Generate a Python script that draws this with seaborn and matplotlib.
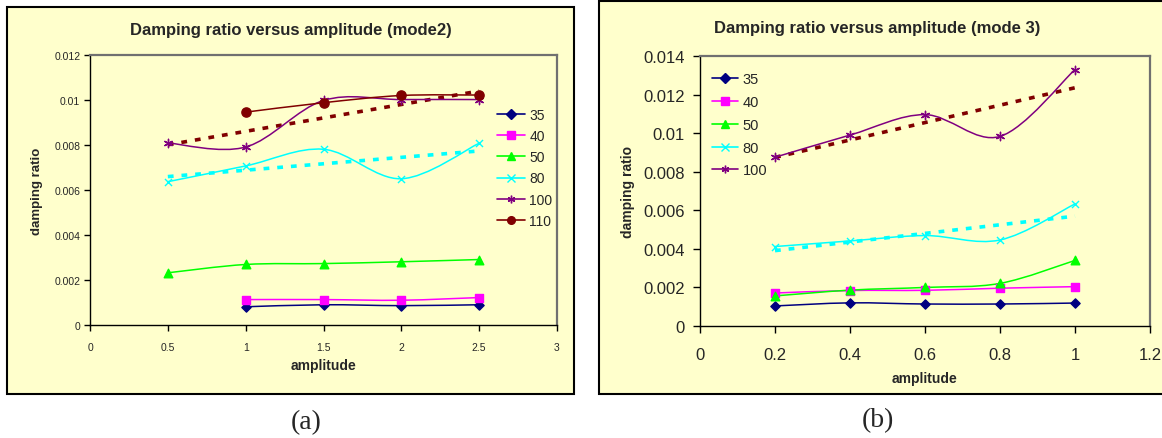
import numpy as np
import pandas as pd
import matplotlib
matplotlib.use("Agg")
import matplotlib.pyplot as plt
import seaborn as sns
from matplotlib.path import Path
from matplotlib.patches import PathPatch, Rectangle
from matplotlib.lines import Line2D

# mode 2 (panel a)
amp_mode2 = [0.5, 1.0, 1.5, 2.0, 2.5]
m2_35 = [np.nan, 0.00081, 0.00090, 0.00086, 0.00090]
m2_40 = [np.nan, 0.00113, 0.00113, 0.00110, 0.00122]
m2_50 = [0.00232, 0.00269, 0.00273, 0.00281, 0.00291]
m2_80 = [0.00637, 0.00707, 0.00781, 0.00650, 0.00808]
m2_100 = [0.00809, 0.00791, 0.00998, 0.01002, 0.01002]
m2_110 = [np.nan, 0.00946, 0.00988, 0.01020, 0.01022]

# mode 3 (panel b)
amp_mode3 = [0.2, 0.4, 0.6, 0.8, 1.0]
m3_35 = [0.00104, 0.00120, 0.00114, 0.00114, 0.00119]
m3_40 = [0.00171, 0.00184, 0.00185, 0.00196, 0.00204]
m3_50 = [0.00156, 0.00186, 0.00200, 0.00221, 0.00340]
m3_80 = [0.00412, 0.00441, 0.00469, 0.00446, 0.00633]
m3_100 = [0.00875, 0.00990, 0.01096, 0.00983, 0.01330]

series_names = ['35', '40', '50', '80', '100', '110']
x_ticks_a = [0, 0.5, 1, 1.5, 2, 2.5, 3]
y_ticks_a = [0, 0.002, 0.004, 0.006, 0.008, 0.010, 0.012]
x_ticks_b = [0, 0.2, 0.4, 0.6, 0.8, 1.0, 1.2]
y_ticks_b = [0, 0.002, 0.004, 0.006, 0.008, 0.010, 0.012, 0.014]

colors = {'35': '#000080', '40': '#FF00FF', '50': '#00FF00',
          '80': '#00FFFF', '100': '#800080', '110': '#800000'}
markers = {'35': 'D', '40': 's', '50': '^', '80': 'x', '100': (6, 2, 0), '110': 'o'}
msize = {'35': 22, '40': 26, '50': 38, '80': 26, '100': 36, '110': 44}
trend_colors = {'100': '#800000', '80': '#00FFFF'}

sns.set_theme(style='white')
plt.rcParams['font.family'] = ['Liberation Sans', 'DejaVu Sans']

W, H = 1162, 439
fig = plt.figure(figsize=(W / 100, H / 100), dpi=100)
fig.patch.set_facecolor('white')
PANEL = '#FFFFCC'


def fx(px):
    return px / W


def fy(py):
    return 1 - py / H


def long_frame(amp, cols):
    df = pd.DataFrame({'amplitude': amp, **cols})
    df = df.melt(id_vars='amplitude', var_name='series', value_name='ratio')
    return df.dropna()


def smooth_path(x, y):
    # excel-style smoothed line as cubic bezier segments through the points
    pts = np.column_stack([x, y])
    n = len(pts)
    verts = [pts[0]]
    codes = [Path.MOVETO]
    for i in range(n - 1):
        p0 = pts[max(i - 1, 0)]
        p1 = pts[i]
        p2 = pts[i + 1]
        p3 = pts[min(i + 2, n - 1)]
        verts += [p1 + (p2 - p0) / 6, p2 - (p3 - p1) / 6, p2]
        codes += [Path.CURVE4] * 3
    return Path(verts, codes)


def draw_panel(ax, df, names, trends):
    ax.set_facecolor(PANEL)
    for name in names:
        sub = df[df['series'] == name]
        ax.add_patch(PathPatch(smooth_path(sub['amplitude'].values, sub['ratio'].values),
                               facecolor='none', edgecolor=colors[name], lw=1.1, zorder=3))
        kw = dict(color=colors[name], s=msize[name], linewidth=1.0, zorder=4, legend=False)
        if markers[name] not in ('x', (6, 2, 0)):
            kw['edgecolor'] = colors[name]
        sns.scatterplot(data=sub, x='amplitude', y='ratio', marker=markers[name], ax=ax, **kw)
    for name in trends:
        sub = df[df['series'] == name]
        k, b = np.polyfit(sub['amplitude'], sub['ratio'], 1)
        xs = [sub['amplitude'].min(), sub['amplitude'].max()]
        sns.lineplot(x=xs, y=[k * v + b for v in xs], color=trend_colors[name],
                     lw=2.6, linestyle=(0, (1.6, 2.2)), ax=ax, zorder=2)
    for side in ['top', 'right']:
        ax.spines[side].set_color('#707070')
        ax.spines[side].set_linewidth(1.6)
    for side in ['left', 'bottom']:
        ax.spines[side].set_color('black')
        ax.spines[side].set_linewidth(1.0)
    ax.tick_params(axis='both', which='major', direction='out', length=4, width=1,
                   color='black', left=True, bottom=True)


def handles(names):
    return [Line2D([], [], color=colors[n], marker=markers[n], markersize=5.5,
                   markeredgecolor=colors[n], lw=1.2) for n in names]


# panel frames, behind the axes
fig.patches.append(Rectangle((fx(7), fy(395)), fx(574) - fx(7), fy(8) - fy(395),
                             transform=fig.transFigure, facecolor=PANEL,
                             edgecolor='black', lw=1.5, zorder=-5))
fig.patches.append(Rectangle((fx(599), fy(395)), fx(1170) - fx(599), fy(2) - fy(395),
                             transform=fig.transFigure, facecolor=PANEL,
                             edgecolor='black', lw=1.5, zorder=-5))

# ---- panel (a) ----
df_a = long_frame(amp_mode2, dict(zip(series_names, [m2_35, m2_40, m2_50, m2_80, m2_100, m2_110])))
ax_a = fig.add_axes([fx(90), fy(326), fx(557) - fx(90), fy(56) - fy(326)])
draw_panel(ax_a, df_a, series_names, ['100', '80'])
ax_a.set_xlim(0, 3)
ax_a.set_ylim(0, 0.012)
ax_a.set_xticks(x_ticks_a)
ax_a.set_xticklabels([f'{t:g}' for t in x_ticks_a])
ax_a.set_yticks(y_ticks_a)
ax_a.set_yticklabels([f'{t:g}' for t in y_ticks_a])
ax_a.tick_params(axis='both', labelsize=7.5)
ax_a.tick_params(axis='x', pad=8)
ax_a.tick_params(axis='y', pad=3)
ax_a.set_xlabel('amplitude', fontsize=10, fontweight='bold')
ax_a.set_ylabel('damping ratio', fontsize=9.5, fontweight='bold')
ax_a.xaxis.set_label_coords(0.5, -0.148)
ax_a.xaxis.label.set_va('center')
ax_a.yaxis.set_label_coords(-0.113, 0.5)
ax_a.yaxis.label.set_va('center')
ax_a.legend(handles=handles(series_names), labels=series_names, loc='upper left',
            bbox_to_anchor=(0.872, 0.803), frameon=False, fontsize=10,
            handlelength=2.0, handletextpad=0.3, labelspacing=0.51,
            borderpad=0, borderaxespad=0)
fig.text(fx(291), fy(31), 'Damping ratio versus amplitude (mode2)', ha='center',
         va='center', fontsize=12, fontweight='bold')

# ---- panel (b) ----
names_b = series_names[:5]
df_b = long_frame(amp_mode3, dict(zip(names_b, [m3_35, m3_40, m3_50, m3_80, m3_100])))
ax_b = fig.add_axes([fx(700), fy(327), fx(1150) - fx(700), fy(57) - fy(327)])
draw_panel(ax_b, df_b, names_b, ['100', '80'])
ax_b.set_xlim(0, 1.2)
ax_b.set_ylim(0, 0.014)
ax_b.set_xticks(x_ticks_b)
ax_b.set_xticklabels([f'{t:g}' for t in x_ticks_b])
ax_b.set_yticks(y_ticks_b)
ax_b.set_yticklabels([f'{t:g}' for t in y_ticks_b])
ax_b.tick_params(axis='both', labelsize=12, length=5)
ax_b.tick_params(axis='x', pad=10)
ax_b.tick_params(axis='y', pad=6)
ax_b.set_xlabel('amplitude', fontsize=10, fontweight='bold')
ax_b.set_ylabel('damping ratio', fontsize=10, fontweight='bold')
ax_b.xaxis.set_label_coords(0.5, (327 - 379) / 270)
ax_b.xaxis.label.set_va('center')
ax_b.yaxis.set_label_coords((628 - 700) / 450, 0.5)
ax_b.yaxis.label.set_va('center')
ax_b.legend(handles=handles(names_b), labels=names_b, loc='upper left',
            bbox_to_anchor=(0.027, 0.939), frameon=False, fontsize=10.5,
            handlelength=1.8, handletextpad=0.3, labelspacing=0.6,
            borderpad=0, borderaxespad=0)
fig.text(fx(877), fy(29), 'Damping ratio versus amplitude (mode 3)', ha='center',
         va='center', fontsize=12, fontweight='bold')

# sub-figure captions
fig.text(fx(306), fy(423), '(a)', ha='center', va='center', fontsize=20,
         family=['Liberation Serif', 'DejaVu Serif'])
fig.text(fx(878), fy(421), '(b)', ha='center', va='center', fontsize=20,
         family=['Liberation Serif', 'DejaVu Serif'])

fig.savefig('out.png', dpi=100)
